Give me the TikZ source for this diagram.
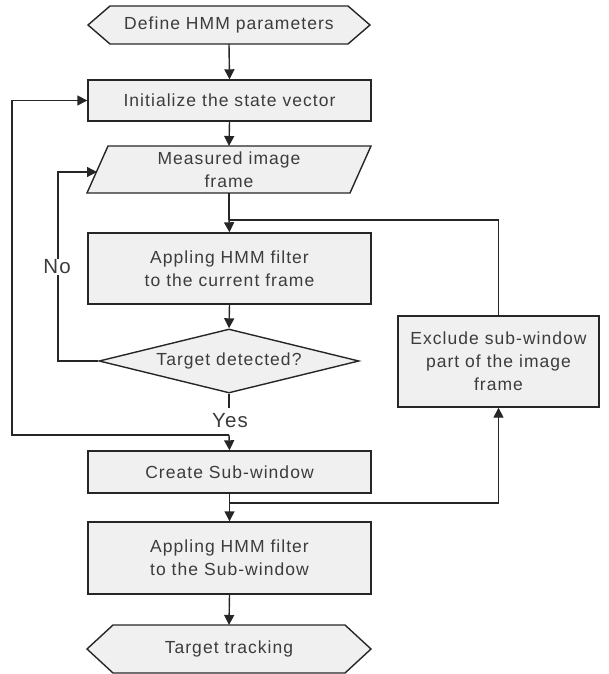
\documentclass[tikz,border=0pt]{standalone}
\usepackage{fontspec}
\setmainfont{Liberation Sans}[LetterSpace=6]
\usetikzlibrary{shapes.geometric,arrows.meta}
\definecolor{boxfill}{HTML}{F0F0F0}
\definecolor{linec}{HTML}{262626}
\definecolor{textc}{HTML}{3C3C3C}
\begin{document}
\begin{tikzpicture}[x=1pt,y=-1pt,
  txt/.style={font=\fontsize{17.5}{23}\selectfont, text=textc, align=center, inner sep=0pt},
  big/.style={font=\fontsize{20.5}{24}\selectfont, text=textc, inner sep=1pt, fill=white},
  box/.style={txt, draw=linec, fill=boxfill, line width=1.4pt, rectangle},
  conn/.style={draw=linec, line width=1.4pt, -{Triangle[length=10pt,width=10pt]}},
  plain/.style={draw=linec, line width=1.4pt},
  shapeline/.style={draw=linec, fill=boxfill, line width=1.4pt, line join=miter}]
\useasboundingbox (0,0) rectangle (608,674);

% Start terminator
\draw[shapeline] (88,25) -- (110,6) -- (348,6) -- (370,25) -- (348,44) -- (110,44) -- cycle;
\node[txt] (define) at (229,25) {Define HMM parameters};
\coordinate (defineS) at (229,44);

% Initialize
\node[box, minimum width=283pt, minimum height=41pt] (init) at (229.5,100.5) {Initialize the state vector};

% Measured image frame (parallelogram)
\draw[shapeline] (108,146) -- (371,146) -- (350,193) -- (87,193) -- cycle;
\node[txt] (meas) at (229,170) {Measured image\\frame};
\coordinate (measN) at (229,146);
\coordinate (measS) at (229,193);
\coordinate (measL) at (97,172);

% Appling HMM filter (current frame)
\node[box, minimum width=283pt, minimum height=71pt] (app1) at (229.5,268.5) {Appling HMM filter\\to the current frame};

% Decision
\node[txt, draw=linec, fill=boxfill, line width=1.4pt, diamond, shape aspect=4,
      minimum width=260pt, minimum height=64pt] (dec) at (229,361) {Target detected?};

% Exclude box
\node[box, minimum width=201pt, minimum height=91pt] (excl) at (498.5,361.5) {Exclude sub-window\\part of the image\\frame};

% Create sub-window
\node[box, minimum width=283pt, minimum height=42pt] (create) at (229.5,472) {Create Sub-window};

% Appling HMM filter (sub-window)
\node[box, minimum width=283pt, minimum height=72pt] (app2) at (229.5,558) {Appling HMM filter\\to the Sub-window};

% End terminator
\draw[shapeline] (87,649) -- (113,625) -- (345,625) -- (371,649) -- (345,673) -- (113,673) -- cycle;
\node[txt] (track) at (229,649) {Target tracking};
\coordinate (trackN) at (229,625);

% Junctions
\coordinate (merge) at (229,220);
\coordinate (noTurn) at (58,172);
\coordinate (yesJ) at (229,435);
\coordinate (outerTurn) at (12,100.5);
\coordinate (subJ) at (229,503);
\coordinate (yesTop) at (229,408);

% Connectors
\draw[conn] (defineS) -- (init.north);
\draw[conn] (init.south) -- (measN);
\draw[plain] (measS) -- (merge);
\draw[conn] (merge) -- (app1.north);
\draw[conn] (app1.south) -- (dec.north);
\draw[conn] (dec.west) -| (noTurn) -- (measL);
\draw[plain] (dec.south) -- (yesTop);
\draw[conn] (yesJ) -- (create.north);
\draw[conn] (yesJ) -| (outerTurn) -- (init.west);
\draw[conn] (create.south) -- (app2.north);
\draw[conn] (subJ) -| (excl.south);
\draw[plain] (excl.north) |- (merge);
\draw[conn] (app2.south) -- (trackN);

% Labels
\node[big] (no) at (57,267) {No};
\node[big] (yes) at (230,421) {Yes};
\end{tikzpicture}
\end{document}
